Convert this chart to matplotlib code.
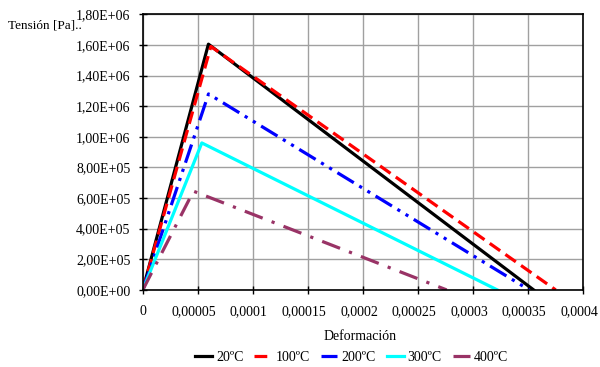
import matplotlib
matplotlib.use("Agg")
import matplotlib.pyplot as plt
import matplotlib.transforms as mtransforms
from matplotlib.ticker import FuncFormatter, MultipleLocator

plt.rcParams['font.family'] = ['Liberation Serif', 'DejaVu Serif']

labels = ["20ºC", "100ºC", "200ºC", "300ºC", "400ºC"]
strain_20 = [0, 5.96e-5, 3.55e-4]
stress_20 = [0, 1.605e6, 0]
strain_100 = [0, 6.18e-5, 3.75e-4]
stress_100 = [0, 1.59e6, 0]
strain_200 = [0, 5.97e-5, 3.51e-4]
stress_200 = [0, 1.28e6, 0]
strain_300 = [0, 5.36e-5, 3.22e-4]
stress_300 = [0, 9.6e5, 0]
strain_400 = [0, 4.6e-5, 2.76e-4]
stress_400 = [0, 6.45e5, 0]

colors = ["#000000", "#ff0000", "#0000ff", "#00ffff", "#993366"]
styles = ["-", (0, (4, 2)), (0, (6, 2, 1, 2, 1, 2)), "-", (0, (6, 3, 1, 3))]

fig = plt.figure(figsize=(6, 3.67), dpi=100)
ax = fig.add_axes([0.238, 0.21, 0.734, 0.751])

series = [(strain_20, stress_20), (strain_100, stress_100), (strain_200, stress_200),
          (strain_300, stress_300), (strain_400, stress_400)]
handles = []
for (x, y), c, ls, lab in zip(series, colors, styles, labels):
    h, = ax.plot(x, y, color=c, linestyle=ls, linewidth=2.3, label=lab)
    handles.append(h)

ax.set_xlim(0, 0.0004)
ax.set_ylim(0, 1.8e6)
ax.xaxis.set_major_locator(MultipleLocator(0.00005))
ax.yaxis.set_major_locator(MultipleLocator(2e5))

def xfmt(v, p):
    if abs(v) < 1e-12:
        return "0"
    s = ("%.5f" % v).rstrip("0")
    return s.replace(".", ",")

def yfmt(v, p):
    s = "%.2E" % v
    mant, exp = s.split("E")
    e = int(exp)
    return "%s%s%s%02d" % (mant.replace(".", ","), "E", "+" if e >= 0 else "-", abs(e))

ax.xaxis.set_major_formatter(FuncFormatter(xfmt))
ax.yaxis.set_major_formatter(FuncFormatter(yfmt))
ax.grid(True, color="#a0a0a0", linewidth=1.0)
ax.set_axisbelow(True)
for s in ax.spines.values():
    s.set_linewidth(1.2)
ax.tick_params(axis="both", direction="inout", length=6, labelsize=10, width=1)
ax.tick_params(axis="x", pad=8)
ax.tick_params(axis="y", pad=6)

fig.canvas.draw()
offset = mtransforms.ScaledTranslation(-4 / 100, 0, fig.dpi_scale_trans)
for tick in ax.xaxis.get_major_ticks():
    if abs(tick.get_loc()) > 1e-12:
        lbl = tick.label1
        lbl.set_transform(lbl.get_transform() + offset)

fig.text(0.013, 0.93, "Tensión [Pa]..", fontsize=9.5, ha="left", va="center")
fig.text(0.6, 0.084, "Deformación", fontsize=10, ha="center", va="center")

fig.legend(handles=handles, labels=labels, loc="center", bbox_to_anchor=(0.586, 0.027),
           ncol=5, frameon=False, fontsize=10, handlelength=1.2, handletextpad=0.3,
           columnspacing=0.8)

fig.savefig("out.png", dpi=100)
